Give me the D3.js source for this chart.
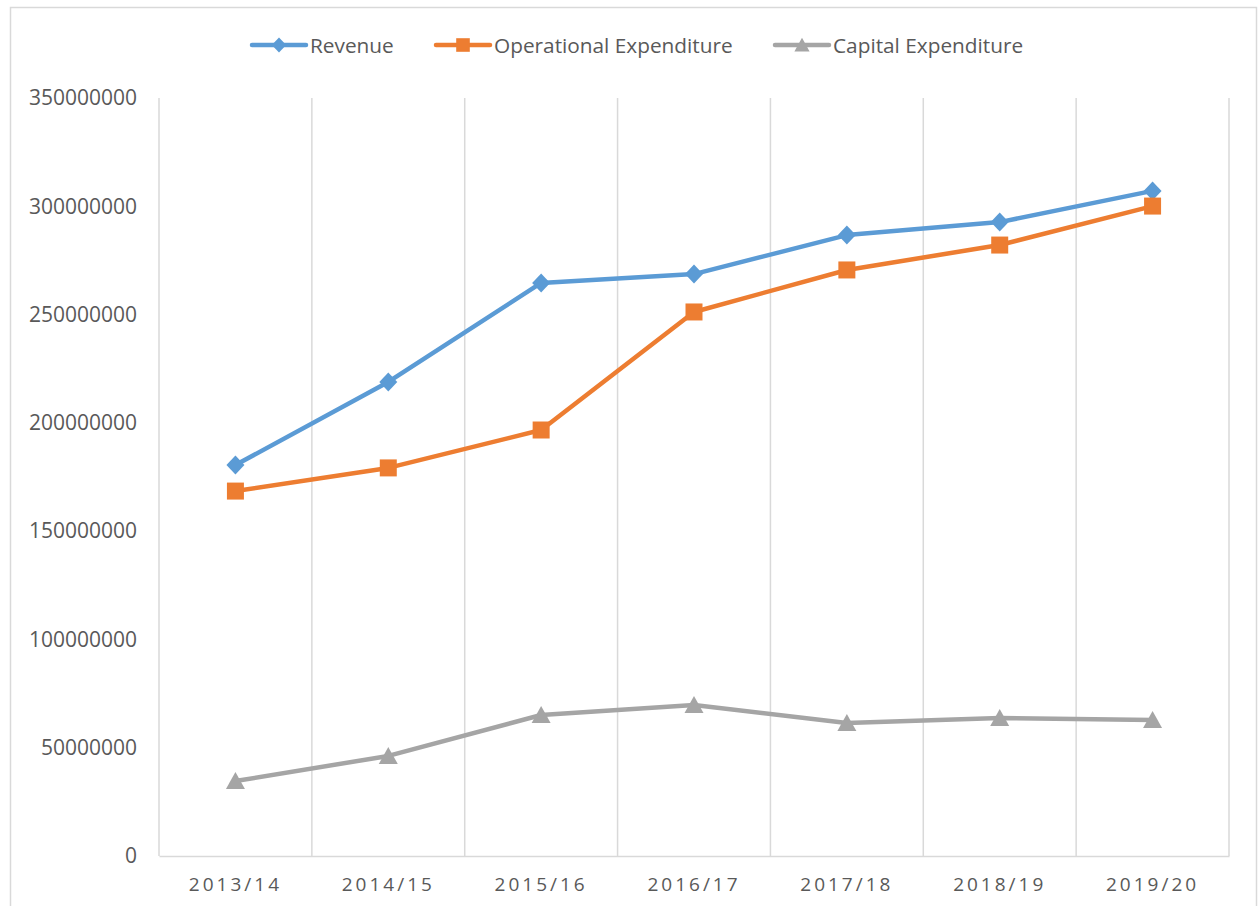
<!DOCTYPE html>
<meta charset="utf-8">
<style>
  body { margin: 0; background: #fff; }
  text { font-family: "Open Sans", sans-serif; fill: #595959; }
</style>
<svg width="1258" height="906"></svg>
<script src="https://d3js.org/d3.v7.min.js"></script>
<script>
var years = ["2013/14", "2014/15", "2015/16", "2016/17", "2017/18", "2018/19", "2019/20"]
var revenue = [180500000, 218900000, 264600000, 268700000, 286700000, 292700000, 307100000]
var opex = [168500000, 179200000, 196700000, 251200000, 270600000, 282100000, 300100000]
var capex = [34600000, 46200000, 65100000, 69700000, 61400000, 63700000, 62800000]
var yTicks = [0, 50000000, 100000000, 150000000, 200000000, 250000000, 300000000, 350000000]

var series = [
  { name: "Revenue", values: revenue, color: "#5B9BD5", marker: "diamond", lx: 252 },
  { name: "Operational Expenditure", values: opex, color: "#ED7D31", marker: "square", lx: 436 },
  { name: "Capital Expenditure", values: capex, color: "#A5A5A5", marker: "triangle", lx: 775 }
]

var svg = d3.select('svg')
var plotLeft = 159, plotRight = 1229, plotTop = 98, plotBottom = 856

// chart frame
svg.append('rect')
  .attr('x', 10.5).attr('y', 7.5)
  .attr('width', 1246).attr('height', 920)
  .attr('fill', 'none').attr('stroke', '#D9D9D9').attr('stroke-width', 1.5)

var x = d3.scaleBand().domain(years).range([plotLeft, plotRight])
var y = d3.scaleLinear().domain([0, 350000000]).range([plotBottom, plotTop])

// vertical gridlines at category boundaries
var bounds = d3.range(years.length + 1).map(function (i) { return plotLeft + i * x.step() })
svg.append('g').selectAll('line').data(bounds).join('line')
  .attr('x1', function (d) { return d }).attr('x2', function (d) { return d })
  .attr('y1', plotTop).attr('y2', plotBottom)
  .attr('stroke', '#D9D9D9').attr('stroke-width', 1.5)

// x axis
var xAxis = svg.append('g')
  .attr('transform', 'translate(0,' + plotBottom + ')')
  .call(d3.axisBottom(x).tickSize(0).tickPadding(22))
xAxis.select('.domain').attr('stroke', '#D9D9D9').attr('stroke-width', 1.5)
xAxis.selectAll('text')
  .attr('font-size', 19).attr('letter-spacing', 3)
  .attr('font-family', '"Open Sans", sans-serif').attr('fill', '#595959')

// y axis labels
var yAxis = svg.append('g')
  .attr('transform', 'translate(' + (plotLeft - 22) + ',0)')
  .call(d3.axisLeft(y).tickValues(yTicks).tickSize(0).tickPadding(0).tickFormat(d3.format('d')))
yAxis.select('.domain').remove()
yAxis.selectAll('text')
  .attr('font-size', 21)
  .attr('font-family', '"Open Sans", sans-serif').attr('fill', '#595959')

function markerPath(type) {
  if (type === "diamond") return "M0,-9.5L9,0L0,9.5L-9,0Z"
  if (type === "square") return "M-8.5,-8.5H8.5V8.5H-8.5Z"
  return "M0,-9L9.5,8L-9.5,8Z"
}

var line = d3.line()
  .x(function (d, i) { return x(years[i]) + x.bandwidth() / 2 })
  .y(function (d) { return y(d) })

series.forEach(function (s) {
  svg.append('path')
    .attr('d', line(s.values))
    .attr('fill', 'none').attr('stroke', s.color)
    .attr('stroke-width', 4.5).attr('stroke-linejoin', 'round').attr('stroke-linecap', 'round')

  svg.append('g').selectAll('path').data(s.values).join('path')
    .attr('transform', function (d, i) {
      return 'translate(' + (x(years[i]) + x.bandwidth() / 2) + ',' + y(d) + ')'
    })
    .attr('d', markerPath(s.marker))
    .attr('fill', s.color)

  // legend
  var g = svg.append('g').attr('transform', 'translate(' + s.lx + ',45)')
  g.append('line').attr('x1', 0).attr('x2', 54)
    .attr('stroke', s.color).attr('stroke-width', 4.5).attr('stroke-linecap', 'round')
  g.append('path').attr('transform', 'translate(27,0) scale(0.8)')
    .attr('d', markerPath(s.marker)).attr('fill', s.color)
  g.append('text').attr('x', 58).attr('y', -0.5)
    .attr('dominant-baseline', 'central')
    .attr('font-size', 20.8)
    .text(s.name)
})
</script>
